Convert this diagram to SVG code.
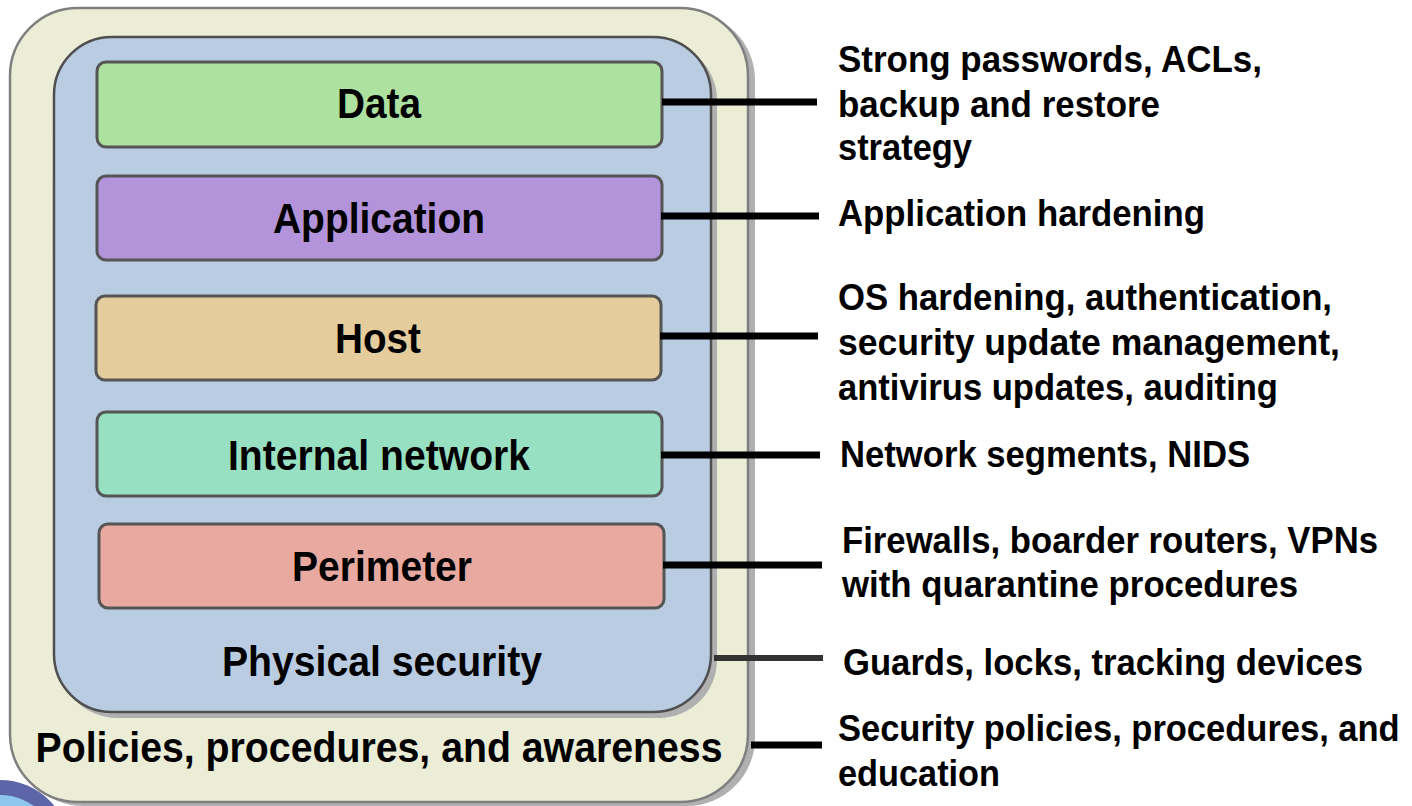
<svg xmlns="http://www.w3.org/2000/svg" width="1412" height="806" viewBox="0 0 1412 806">
  <style>
    .shadow { fill: #b0b0b0; }
    .outer { fill: #ecedd7; stroke: #7f7f7f; stroke-width: 2.5; }
    .inner { fill: #b9cce2; stroke: #4f4f4f; stroke-width: 2.5; }
    .layer { stroke: #555555; stroke-width: 3; }
    .lbl { font-family: "Liberation Sans", Arial, sans-serif; font-weight: bold; fill: #000000; }
    .big { font-size: 42px; text-anchor: middle; }
    .note { font-size: 37px; }
    .link { stroke: #000000; stroke-width: 7; fill: none; }
    .link-soft { stroke: #333333; stroke-width: 6; fill: none; }
  </style>

  <!-- decorative emblem peeking in at the lower left -->
  <g id="emblem">
    <circle cx="0" cy="850" r="70" fill="#5e64a8"/>
    <circle cx="0" cy="853" r="58" fill="#8fc6ee"/>
  </g>

  <!-- outermost layer: policies, procedures, and awareness -->
  <g id="policies">
    <rect class="shadow" x="15" y="12" width="740" height="794" rx="68"/>
    <rect class="outer" x="10" y="8" width="738" height="794" rx="68"/>
    <text class="lbl big" x="379" y="762" textLength="687" lengthAdjust="spacingAndGlyphs">Policies, procedures, and awareness</text>
  </g>

  <!-- physical security layer -->
  <g id="physical">
    <rect class="shadow" x="59" y="42" width="658" height="676" rx="58"/>
    <rect class="inner" x="54" y="37" width="657" height="675" rx="58"/>
    <text class="lbl big" x="382" y="676" textLength="320" lengthAdjust="spacingAndGlyphs">Physical security</text>
  </g>

  <g id="data">
    <rect class="layer" x="97" y="62" width="565" height="85" rx="9" fill="#ade19f"/>
    <text class="lbl big" x="379" y="118" textLength="84" lengthAdjust="spacingAndGlyphs">Data</text>
  </g>

  <g id="application">
    <rect class="layer" x="97" y="176" width="565" height="84" rx="9" fill="#b393d9"/>
    <text class="lbl big" x="379" y="233" textLength="212" lengthAdjust="spacingAndGlyphs">Application</text>
  </g>

  <g id="host">
    <rect class="layer" x="96" y="296" width="565" height="84" rx="9" fill="#e4cc9c"/>
    <text class="lbl big" x="378" y="353" textLength="86" lengthAdjust="spacingAndGlyphs">Host</text>
  </g>

  <g id="internal-network">
    <rect class="layer" x="97" y="412" width="565" height="84" rx="9" fill="#98e0c2"/>
    <text class="lbl big" x="379" y="470" textLength="302" lengthAdjust="spacingAndGlyphs">Internal network</text>
  </g>

  <g id="perimeter">
    <rect class="layer" x="99" y="524" width="565" height="84" rx="9" fill="#e8aaa0"/>
    <text class="lbl big" x="382" y="581" textLength="180" lengthAdjust="spacingAndGlyphs">Perimeter</text>
  </g>

  <!-- leader lines to the countermeasure notes -->
  <g id="connectors">
    <line class="link" x1="662" y1="102" x2="817" y2="102"/>
    <line class="link" x1="661" y1="216" x2="819" y2="216"/>
    <line class="link" x1="660" y1="336" x2="818" y2="336"/>
    <line class="link" x1="661" y1="455" x2="820" y2="455"/>
    <line class="link" x1="663" y1="565" x2="822" y2="565"/>
    <line class="link-soft" x1="714" y1="658" x2="823" y2="658"/>
    <line class="link" x1="751" y1="745" x2="822" y2="745"/>
  </g>

  <!-- countermeasure notes -->
  <g id="notes">
    <text class="lbl note" x="838" y="72" textLength="424" lengthAdjust="spacingAndGlyphs">Strong passwords, ACLs,</text>
    <text class="lbl note" x="838" y="117" textLength="322" lengthAdjust="spacingAndGlyphs">backup and restore</text>
    <text class="lbl note" x="838" y="160" textLength="134" lengthAdjust="spacingAndGlyphs">strategy</text>
    <text class="lbl note" x="838" y="226" textLength="367" lengthAdjust="spacingAndGlyphs">Application hardening</text>
    <text class="lbl note" x="838" y="310" textLength="494" lengthAdjust="spacingAndGlyphs">OS hardening, authentication,</text>
    <text class="lbl note" x="838" y="355" textLength="502" lengthAdjust="spacingAndGlyphs">security update management,</text>
    <text class="lbl note" x="838" y="400" textLength="440" lengthAdjust="spacingAndGlyphs">antivirus updates, auditing</text>
    <text class="lbl note" x="840" y="467" textLength="410" lengthAdjust="spacingAndGlyphs">Network segments, NIDS</text>
    <text class="lbl note" x="842" y="553" textLength="536" lengthAdjust="spacingAndGlyphs">Firewalls, boarder routers, VPNs</text>
    <text class="lbl note" x="842" y="597" textLength="456" lengthAdjust="spacingAndGlyphs">with quarantine procedures</text>
    <text class="lbl note" x="843" y="675" textLength="520" lengthAdjust="spacingAndGlyphs">Guards, locks, tracking devices</text>
    <!-- horizontally condensed so the long line stays inside the canvas -->
    <text class="lbl note" transform="translate(838,741) scale(0.933,1)" x="0" y="0" textLength="602" lengthAdjust="spacingAndGlyphs">Security policies, procedures, and</text>
    <text class="lbl note" x="838" y="786" textLength="162" lengthAdjust="spacingAndGlyphs">education</text>
  </g>
</svg>
